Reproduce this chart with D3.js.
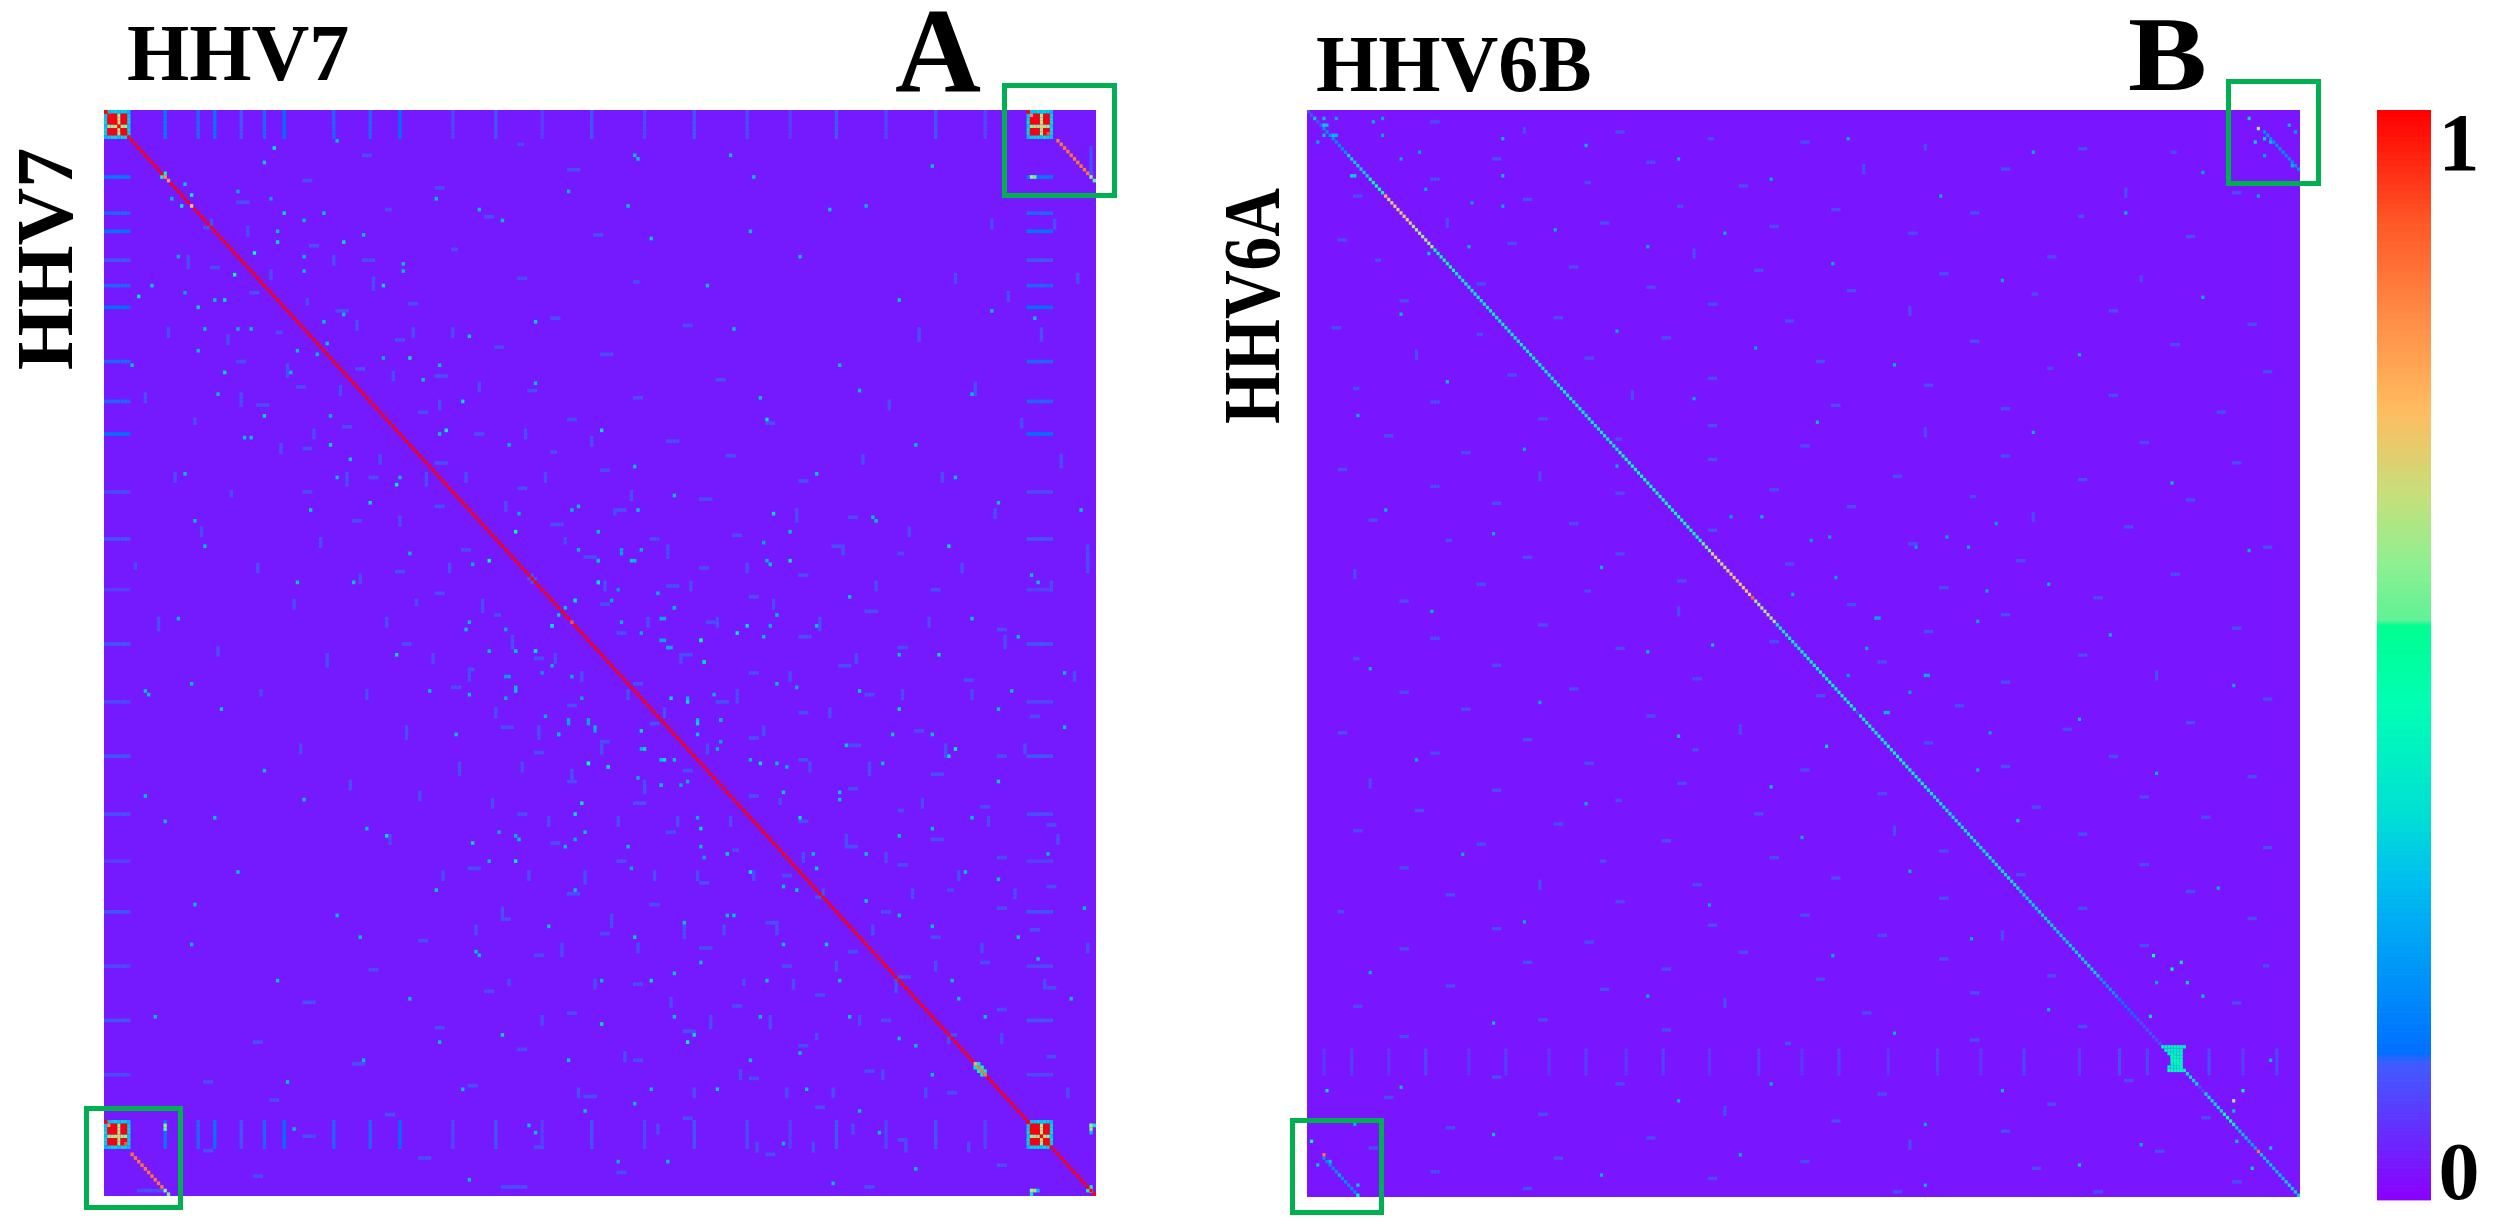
<!DOCTYPE html>
<html>
<head>
<meta charset="utf-8">
<script src="https://cdn.jsdelivr.net/npm/d3@7"></script>
<style>
  html, body { margin: 0; padding: 0; background: #fff; }
  svg { display: block; }
  text { font-family: "Liberation Serif", serif; font-weight: bold; fill: #000; }
</style>
</head>
<body>
<div id="container"></div>
<script>
// NOTE ON THE DATA: the original has roughly 100000 cells per panel and they cannot be read one by one.
// Everything else in the spot and dash lists is placed by eye or by hand, so those positions are only
// approximate and are not measurements. The fine speckle is NOT reproduced: it is stood in for by
// one flat average tone (fieldLevelA, fieldLevelB) and the picture is much sparser than the original there.

// colour scale, the jumps at 0.13 and 0.53 are in the original
var colorValues = [0, 0.125, 0.135, 0.29, 0.355, 0.454, 0.528, 0.532, 0.585, 0.645, 0.725, 0.815, 0.895, 1];
var colorList = ["#8b00ff", "#3f5cff", "#0070ff", "#00bdf0", "#00e0d4", "#00ffb4", "#00ff90", "#5ff296",
                 "#8ef090", "#c4e07c", "#ffbc60", "#ff8a45", "#ff5a28", "#ff0000"];

// grid sizes estimated from the cell pitch in the crops
var sizeA = 300;
var sizeB = 322;

// average tone of the fine speckle, which is not drawn cell by cell
var fieldLevelA = .036;
var fieldLevelB = .03;

// HHV7 self comparison: [first, last, value] along the diagonal
var diagRunsA = [[0,17,1],[18,19,.8],[20,25,1],[26,26,.72],[27,140,1],[141,141,.9],[142,262,1],[263,263,.75],
  [264,266,.85],[267,299,1]];

// terminal repeat block, same pattern in all four corners
var blockA = [
  [1,.3,.32,.34,.3,.34,.32,.28],
  [.3,.8,1,1,.6,1,1,.32],
  [.32,1,1,1,.62,1,1,.34],
  [.34,1,1,1,.62,1,1,.34],
  [.3,.6,.62,.62,.66,.62,.6,.3],
  [.34,1,1,1,.62,1,1,.34],
  [.32,1,1,1,.6,1,.9,.32],
  [.28,.32,.34,.34,.3,.34,.32,.3]];
var blockOriginsA = [[0,0],[0,279],[279,0],[279,279]];

// [column, value] thin stripes level with the repeat block, first nine from a crop, the rest by eye
var stripesA = [[18,.16],[28,.13],[33,.15],[41,.12],[48,.13],[54,.14],[69,.13],[80,.13],[89,.14],[105,.1],[118,.12],
  [132,.09],[147,.12],[163,.1],[178,.12],[194,.11],[207,.09],[221,.12],[236,.1],[251,.12],[266,.1]];

// [row, column, value] the stronger cells, the matrix is symmetric so each is drawn mirrored too.
// The first block is read from a crop of the centre, the others are approximate
var spotsA = [
[116,124,.5],[116,149,.3],[109,143,.3],[110,141,.28],[111,125,.27],[124,149,.3],[124,159,.3],[130,149,.35],
[135,142,.3],[142,135,.35],[143,121,.27],[149,130,.35],[160,124,.3],[162,121,.27],[111,202,.35],[116,207,.3],
[124,207,.4],[124,200,.28],[125,201,.3],[119,199,.26],[144,191,.4],[142,194,.35],[146,180,.35],[152,181,.35],
[158,203,.3],[139,203,.3],[142,201,.27],[159,209,.27],[162,176,.27],[137,172,.28],[140,169,.25],[146,169,.25],
[148,171,.26],[168,179,.3],[171,162,.35],[176,163,.35],[179,169,.35],[179,172,.3],[180,146,.45],[181,152,.3],
[170,148,.28],[168,146,.27],[168,140,.27],[172,137,.27],[176,185,.27],[168,186,.27],[180,203,.3],[179,195,.27],
[181,206,.27],[186,168,.28],[186,174,.26],[184,161,.27],[167,133,.27],[162,144,.26],[156,141,.28],[153,135,.27],
[155,132,.22],[156,122,.25],[149,124,.28],[156,121,.24],
[18,17,.45],[20,24,.3],[23,26,.4],[14,48,.32],[10,51,.38],[28,54,.35],[30,60,.3],[8,70,.3],[24,50,.25],[36,72,.35],
[39,45,.45],[33,52,.3],[40,22,.26],[44,60,.3],[48,84,.34],[42,90,.3],[52,36,.35],[58,66,.3],[60,40,.28],[62,110,.32],
[66,28,.3],[68,92,.35],[72,56,.3],[75,130,.3],[78,34,.3],[80,108,.35],[84,68,.28],[88,150,.35],[90,44,.3],[92,122,.28],
[96,74,.32],[98,160,.3],[100,24,.3],[103,88,.4],[106,172,.3],[30,120,.3],[22,140,.28],[12,160,.3],[35,165,.32],[48,182,.3],
[18,196,.3],[40,210,.3],[26,230,.28],[15,250,.3],[52,240,.32],[60,190,.3],[70,222,.3],[78,262,.3],[85,200,.35],[92,245,.3],
[100,215,.32],[108,270,.3],[112,232,.3],[120,255,.34],[128,280,.3],[134,225,.3],[140,262,.32],[150,240,.3],[155,290,.28],
[160,228,.32],[165,270,.3],[172,250,.3],[176,257,.42],[180,235,.3],[188,205,.32],[190,222,.3],[195,262,.3],[198,180,.35],
[200,240,.3],[205,214,.3],[210,195,.35],[212,270,.3],[218,230,.32],[222,188,.3],[225,250,.3],[230,205,.3],[234,282,.3],
[238,172,.32],[240,222,.3],[245,258,.3],[250,198,.3],[252,150,.35],[256,240,.3],[260,210,.3],[266,250,.3],[270,185,.32],
[274,160,.3],[276,228,.3],[282,130,.3],[285,205,.28],[290,170,.3],[292,245,.3],[295,110,.3],[296,220,.3],
[64,67,.3],[139,137,.3],[165,240,.35],[77,228,.3],[255,178,.35],[130,58,.32],[110,161,.3],[70,101,.3],[33,195,.3],[101,89,.3],
[158,26,.3],[189,12,.3],[198,79,.3],[233,113,.3],[268,55,.3],[215,209,.32],[57,281,.3],[145,276,.3],[101,257,.3],[27,219,.3],
[13,161,.3],[27,113,.3],[145,199,.3],[215,142,.3],[224,175,.3],
[265,264,.42],[264,265,.42],[265,265,.42],[264,263,.38],[266,265,.4],[263,264,.38],[281,298,.6],[280,298,.33],[282,298,.3],
[281,18,.55],[298,280,.6],[299,280,.4],[18,280,.6],[298,298,.62],[297,298,.42],[19,299,.55],[18,298,.6]];

// [row, column, length] faint blue runs, also mirrored. Placed by hand, not read cell by cell
var dashesA = [
[9,125,2],[12,78,3],[16,140,4],[19,60,3],[21,100,3],[25,40,4],[27,85,2],[29,115,3],[32,30,3],[34,148,3],[37,62,3],
[38,105,2],[41,78,4],[43,32,3],[46,125,3],[47,160,2],[50,44,3],[53,92,3],[55,70,4],[57,135,3],[59,175,3],[61,52,2],[63,88,3],
[65,118,3],[67,150,4],[69,40,3],[71,76,3],[73,100,4],[74,185,3],[76,58,3],[77,128,3],[79,160,3],[81,46,4],[83,95,3],[85,140,3],
[86,200,3],[87,72,3],[89,112,3],[91,170,4],[93,60,3],[94,135,2],[95,188,3],[97,100,4],[99,150,3],[101,80,3],[102,210,3],
[104,125,3],[105,60,3],[107,180,4],[109,100,3],[110,155,3],[112,225,3],[113,75,3],[114,135,4],[117,190,3],[118,165,3],[120,220,3],
[121,108,3],[122,240,2],[123,145,4],[126,180,3],[127,88,3],[128,210,3],[129,128,3],[131,170,4],[132,250,3],[133,100,3],[134,195,3],
[136,150,3],[138,230,4],[139,118,2],[141,182,3],[143,270,3],[144,155,3],[145,210,4],[147,90,3],[148,240,3],[150,175,3],[151,130,3],
[153,222,4],[154,110,2],[155,195,3],[157,260,3],[158,160,3],[159,105,3],[161,230,3],[163,185,4],[164,140,3],[166,210,3],[167,280,3],
[169,165,3],[170,120,4],[171,245,3],[173,195,3],[174,150,3],[175,225,4],[177,130,3],[178,270,3],[179,210,3],[182,175,3],[183,250,4],
[185,140,3],[187,225,3],[189,195,3],[191,160,4],[192,265,3],[193,240,2],[194,125,3],[196,210,3],[197,285,3],[199,170,3],[201,250,4],
[202,135,3],[203,225,3],[204,190,2],[206,270,3],[207,155,3],[208,240,3],[209,110,4],[211,205,3],[213,180,3],[214,285,3],[215,255,2],
[216,140,4],[217,215,3],[219,165,3],[220,270,3],[221,235,3],[223,120,3],[224,200,4],[226,280,3],[227,150,3],[228,250,3],[229,95,3],
[231,180,4],[232,225,3],[233,130,3],[235,265,3],[236,205,3],[237,80,3],[239,240,4],[241,160,3],[242,285,3],[243,115,3],[244,215,3],
[246,60,4],[247,190,3],[248,270,3],[249,140,3],[251,235,3],[253,100,3],[254,175,4],[255,255,3],[257,45,3],[258,210,3],[259,125,3],
[261,285,3],[262,160,3],[263,75,4],[265,230,3],[267,195,3],[268,30,3],[269,110,3],[271,255,3],[272,145,4],[273,50,3],[275,215,3],
[277,85,3],[278,175,3],[283,60,4],[284,240,3],[286,130,3],[287,30,3],[288,200,3],[289,95,4],[291,270,3],[293,155,3],[294,45,3],
[297,120,8],[297,230,3],[298,10,8]];

// HHV6B vs HHV6A, not symmetric. Values along the diagonal
var diagRunsB = [[0,4,.12],[5,12,.2],[13,19,.33],[20,24,.5],[25,25,.75],[26,33,.68],[34,40,.62],[41,47,.52],[48,100,.4],
  [101,127,.45],[128,130,.55],[131,136,.66],[137,143,.7],[144,144,.87],[145,151,.62],[152,160,.4],[161,177,.42],[178,178,.1],
  [179,200,.42],[201,230,.38],[231,256,.33],[257,262,.22],[263,268,.15],[269,276,.12],[277,284,.42],[285,288,.35],[289,290,.1],
  [291,296,.35],[297,300,.5],[301,304,.3],[305,307,.25],[308,308,.85],[309,316,.3],[317,321,.33]];

// [row, first column, length, value] of the teal block near the end of the diagonal
var blockRunsB = [[277,278,7,.4],[278,279,5,.42],[279,280,4,.42],[280,280,4,.44],[281,280,4,.44],[282,280,4,.42],[283,279,5,.42],[284,279,5,.44]];

// [column, value] thin stripes across rows 278 to 285, the right hand ones from a crop, the rest by eye
var stripesB = [[5,.08],[14,.09],[26,.08],[38,.1],[52,.08],[64,.09],[78,.08],[90,.09],[103,.08],[115,.1],[130,.08],[146,.09],[160,.08],
  [172,.09],[188,.08],[204,.09],[218,.08],[232,.1],[250,.09],[263,.11],[272,.1],[292,.11],[303,.09],[314,.1]];

// [row, column, value], from the crops round the centre and the corners, the rest by eye
var spotsB = [
[2,2,.3],[4,5,.33],[4,6,.3],[2,5,.3],[7,5,.3],[7,8,.3],[7,9,.28],[9,3,.25],[2,9,.26],[19,14,.35],[19,15,.33],[3,21,.27],[2,24,.26],
[7,24,.26],[8,63,.28],[19,63,.3],[40,52,.28],[28,63,.26],[27,53,.25],[23,38,.25],[14,30,.27],[12,36,.25],[42,39,.3],
[158,131,.3],[150,185,.27],[150,184,.27],[178,187,.3],[178,188,.28],[188,168,.35],[200,150,.3],[143,157,.26],[120,147,.27],[120,137,.25],
[138,171,.26],[126,169,.25],[127,163,.25],[126,207,.25],[122,223,.25],[129,214,.26],[159,181,.27],[167,175,.25],[167,200,.28],[167,201,.25],
[142,220,.26],[151,217,.26],[172,195,.25],[195,217,.26],[184,221,.25],[129,197,.25],
[2,305,.35],[5,308,.62],[8,310,.3],[9,307,.32],[9,312,.3],[13,310,.25],[4,318,.28],[6,320,.25],[16,319,.28],[21,315,.25],[25,308,.26],
[305,1,.45],[309,5,.85],[312,3,.3],[315,10,.26],[318,16,.32],[321,16,.45],[311,7,.3],[300,15,.27],[290,6,.35],[289,30,.3],
[10,90,.28],[14,120,.26],[20,150,.27],[8,175,.27],[25,205,.28],[12,235,.26],[30,265,.27],[18,290,.26],[35,80,.27],[40,110,.26],[36,135,.28],
[45,170,.27],[50,225,.26],[55,290,.28],[60,30,.3],[65,100,.27],[70,145,.26],[75,190,.28],[72,250,.27],[80,45,.3],[85,125,.26],[90,16,.27],
[92,165,.3],[95,235,.27],[100,70,.27],[105,100,.26],[110,280,.3],[118,25,.28],[125,60,.27],[130,305,.28],[135,95,.27],[140,240,.27],[148,40,.28],
[155,260,.27],[160,110,.3],[165,20,.28],[170,300,.26],[175,75,.27],[180,250,.28],[185,120,.3],[192,35,.27],[196,275,.28],[205,90,.27],[210,230,.3],
[215,160,.27],[220,50,.27],[225,195,.27],[230,295,.28],[235,130,.26],[240,70,.27],[245,215,.28],[250,170,.27],[255,20,.28],[258,275,.27],
[262,110,.28],[266,240,.27],[270,60,.3],[273,190,.27],[288,150,.28],[290,225,.3],[293,120,.27],[296,300,.3],[300,200,.27],[303,60,.3],
[306,270,.28],[309,140,.27],[312,250,.3],[315,95,.27],[318,200,.28],[281,312,.3],[268,273,.35],[262,290,.3],[258,285,.34],[254,280,.42],[252,283,.4],
[250,274,.5],[293,300,.62],[290,303,.45],[305,301,.3],[313,306,.36],[307,312,.3]];

// [row, column, length] faint runs, a negative length runs down the column. Placed by hand, not read cell by cell
var dashesB = [
[3,40,3],[5,70,-2],[6,100,3],[8,130,2],[9,160,3],[10,200,-2],[11,250,3],[12,280,2],[14,60,3],[15,110,3],[16,180,-3],[17,225,3],[20,40,3],[21,90,2],
[22,140,3],[23,265,-3],[24,300,3],[25,15,3],[26,70,3],[28,120,2],[29,170,3],[30,215,3],[31,250,2],[32,45,-3],[33,95,3],[34,150,3],[36,195,3],[37,285,3],
[38,10,3],[39,65,3],[41,125,-3],[43,240,3],[44,22,2],[46,85,3],[47,145,3],[48,205,3],[49,270,-2],[51,55,3],[52,110,3],[53,175,3],[54,235,2],[56,30,3],
[57,130,3],[58,195,-3],[59,260,3],[61,80,3],[62,155,3],[63,305,3],[64,8,3],[66,55,2],[67,115,3],[68,215,3],[69,280,3],[71,35,-3],[73,90,3],[74,165,3],
[76,240,2],[77,310,3],[78,65,3],[79,130,3],[81,200,3],[82,15,2],[83,105,-3],[84,260,3],[86,40,3],[87,170,3],[88,225,3],[89,295,3],[91,75,3],[93,130,3],
[94,200,-3],[96,25,3],[97,100,2],[98,270,3],[99,160,3],[101,50,3],[102,225,3],[103,130,3],[104,300,3],[106,10,3],[107,75,-3],[108,190,3],[109,250,3],
[111,40,3],[112,150,3],[113,100,3],[114,215,2],[115,285,3],[116,60,3],[117,175,3],[119,235,-3],[121,20,3],[122,85,3],[123,265,3],[124,130,3],[127,45,2],
[128,195,3],[129,310,3],[131,100,3],[132,70,3],[133,230,3],[134,155,3],[136,15,-3],[137,280,3],[139,120,3],[140,55,3],[141,205,3],[142,90,2],[144,255,3],
[145,30,3],[146,175,3],[147,120,-3],[149,225,3],[152,75,3],[153,300,3],[154,200,3],[156,40,3],[157,150,3],[159,100,3],[161,250,3],[162,15,2],[163,185,3],
[164,60,3],[166,275,-3],[168,125,3],[169,225,3],[171,85,3],[172,30,3],[173,165,3],[174,310,3],[176,210,3],[177,50,3],[179,110,3],[181,285,3],[182,140,-3],
[183,245,3],[184,10,3],[186,70,3],[187,200,3],[189,125,2],[190,40,3],[191,260,3],[193,90,3],[194,225,3],[195,160,3],[197,305,3],[198,20,-3],[199,120,3],
[201,60,3],[202,185,3],[203,270,3],[204,100,2],[206,235,3],[207,35,3],[208,145,3],[209,290,3],[211,80,3],[212,190,-3],[213,15,3],[214,250,3],[216,115,3],
[217,55,3],[218,310,3],[219,205,3],[221,150,3],[222,95,2],[223,270,3],[224,30,3],[226,230,3],[227,170,3],[228,75,-3],[229,125,3],[231,285,3],[232,45,3],
[233,205,3],[234,100,3],[236,250,3],[237,10,2],[238,160,3],[239,305,3],[241,130,3],[242,60,3],[243,225,-3],[244,185,3],[246,90,3],[247,270,3],[248,30,3],
[249,140,3],[251,205,3],[252,70,3],[253,310,2],[254,115,3],[256,240,3],[257,165,3],[259,45,3],[260,95,3],[261,215,3],[263,135,-3],[264,300,3],[265,15,3],
[267,180,3],[269,75,3],[271,250,3],[272,115,3],[274,30,3],[275,215,3],[276,155,2],[286,60,3],[287,265,3],[288,100,3],[291,185,3],[292,25,3],[294,240,3],
[295,135,-3],[297,75,3],[298,290,3],[299,170,3],[301,45,3],[302,225,3],[304,110,3],[305,195,-3],[307,20,3],[308,275,3],[310,80,3],[311,160,3],[313,235,3],
[314,40,3],[316,130,3],[317,300,3],[319,70,3],[320,190,3],[320,255,3]];

var titles = ["HHV7", "A", "HHV6B", "B", "HHV7", "HHV6A"];
var colorTicks = ["1", "0"];

var width = 2494, height = 1231;

var svg = d3.select("#container").append("svg")
    .attr("width", width)
    .attr("height", height);

var defs = svg.append("defs");
defs.append("filter")
    .attr("id", "soft")
    .attr("x", "-1%").attr("y", "-1%").attr("width", "102%").attr("height", "102%")
    .attr("color-interpolation-filters", "sRGB")
  .append("feGaussianBlur")
    .attr("stdDeviation", 0.6);

var color = d3.scaleLinear()
    .domain(colorValues)
    .range(colorList)
    .interpolate(d3.interpolateRgb);

// turns the small lists into one list of cells {r, c, v}
function diagCells(runs) {
  var out = [];
  runs.forEach(function(run) {
    for (var i = run[0]; i <= run[1]; i++) out.push({r: i, c: i, v: run[2]});
  });
  return out;
}

function dashCells(dashes, v) {
  var out = [];
  dashes.forEach(function(d) {
    for (var k = 0; k < Math.abs(d[2]); k++) {
      if (d[2] > 0) out.push({r: d[0], c: d[1] + k, v: v});
      else out.push({r: d[0] + k, c: d[1], v: v});
    }
  });
  return out;
}

function mirrored(cells) {
  return cells.concat(cells.map(function(d) { return {r: d.c, c: d.r, v: d.v}; }));
}

function stripeCells(stripes, firstRow, lastRow) {
  var out = [];
  stripes.forEach(function(s) {
    for (var r = firstRow; r <= lastRow; r++) out.push({r: r, c: s[0], v: s[1]});
  });
  return out;
}

var cellsA = [];
cellsA = cellsA.concat(mirrored(stripeCells(stripesA, 0, 7)));
cellsA = cellsA.concat(mirrored(stripeCells(stripesA, 279, 286)));
cellsA = cellsA.concat(mirrored(dashCells(dashesA, .11)));
cellsA = cellsA.concat(mirrored(spotsA.map(function(d) { return {r: d[0], c: d[1], v: d[2]}; })));
cellsA = cellsA.concat(diagCells(diagRunsA));
// off-diagonal copies of the repeat, the short orange lines in the green boxes
var repeatDiag = [8,9,10,11,12,13,14,15,16,17];
repeatDiag.forEach(function(i) {
  cellsA.push({r: i, c: i + 280, v: .85});
  cellsA.push({r: i + 280, c: i, v: .85});
});
blockOriginsA.forEach(function(o) {
  blockA.forEach(function(row, i) {
    row.forEach(function(v, j) { cellsA.push({r: o[0] + i, c: o[1] + j, v: v}); });
  });
});

var cellsB = [];
cellsB = cellsB.concat(stripeCells(stripesB, 278, 285));
cellsB = cellsB.concat(dashCells(dashesB, .11));
cellsB = cellsB.concat(spotsB.map(function(d) { return {r: d[0], c: d[1], v: d[2]}; }));
cellsB = cellsB.concat(diagCells(diagRunsB));
blockRunsB.forEach(function(b) {
  for (var k = 0; k < b[2]; k++) cellsB.push({r: b[0], c: b[1] + k, v: b[3]});
});
// faint off-diagonal lines inside the two green boxes
[310,311,312,313,314,315,316,317,318,319,320,321].forEach(function(c, i) {
  cellsB.push({r: 6 + i, c: c, v: .2});
  cellsB.push({r: 310 + i, c: c - 305, v: .2});
});

function drawPanel(id, cells, n, field, x0, x1, y0, y1) {
  var x = d3.scaleLinear().domain([0, n]).range([x0, x1]);
  var y = d3.scaleLinear().domain([0, n]).range([y0, y1]);

  defs.append("clipPath").attr("id", "clip" + id)
    .append("rect")
      .attr("x", x(0)).attr("y", y(0))
      .attr("width", x(n) - x(0)).attr("height", y(n) - y(0));

  var g = svg.append("g").attr("clip-path", "url(#clip" + id + ")");
  g.append("rect")
      .attr("x", x(0)).attr("y", y(0))
      .attr("width", x(n) - x(0)).attr("height", y(n) - y(0))
      .attr("fill", color(field));

  // low values first so the bright ones stay on top
  cells.sort(function(a, b) { return a.v - b.v; });

  g.append("g").attr("filter", "url(#soft)")
    .selectAll("rect")
    .data(cells)
    .enter().append("rect")
      .attr("x", function(d) { return x(d.c); })
      .attr("y", function(d) { return y(d.r); })
      .attr("width", x(1) - x(0))
      .attr("height", y(1) - y(0))
      .attr("fill", function(d) { return color(d.v); });
}

drawPanel("A", cellsA, sizeA, fieldLevelA, 104, 1096, 110, 1196);
drawPanel("B", cellsB, sizeB, fieldLevelB, 1307, 2300, 110, 1197);

// green boxes
var boxX = [1004.5, 86.5, 2228.5, 1292.5];
var boxY = [85.5, 1108.5, 81.5, 1120.5];
var boxW = [110, 94, 90, 89];
var boxH = [110, 99, 102, 92];
svg.selectAll("rect.box")
    .data(boxX)
    .enter().append("rect")
      .attr("class", "box")
      .attr("x", function(d) { return d; })
      .attr("y", function(d, i) { return boxY[i]; })
      .attr("width", function(d, i) { return boxW[i]; })
      .attr("height", function(d, i) { return boxH[i]; })
      .attr("fill", "none")
      .attr("stroke", "#00b050")
      .attr("stroke-width", 5);

// colour bar
var barScale = d3.scaleLinear().domain([0, 1]).range([1200, 113]);
var barSteps = d3.range(0, 1.0001, 1 / 400);
svg.append("g").selectAll("rect")
    .data(barSteps)
    .enter().append("rect")
      .attr("x", 2377)
      .attr("y", function(d) { return barScale(d) - 3; })
      .attr("width", 54)
      .attr("height", 3.4)
      .attr("fill", function(d) { return color(d); });

svg.append("g").selectAll("text")
    .data(colorTicks)
    .enter().append("text")
      .attr("x", 2459)
      .attr("y", function(d) { return d === "1" ? 170 : 1199; })
      .attr("text-anchor", "middle")
      .style("font-size", "82px")
      .text(function(d) { return d; });

// panel titles and letters
svg.append("text").attr("x", 127).attr("y", 80).style("font-size", "80px").text(titles[0]);
svg.append("text").attr("x", 895).attr("y", 91).attr("textLength", 86).attr("lengthAdjust", "spacingAndGlyphs")
    .style("font-size", "120px").text(titles[1]);
svg.append("text").attr("x", 1316).attr("y", 91).style("font-size", "80px").text(titles[2]);
svg.append("text").attr("x", 2128).attr("y", 90).attr("textLength", 79).attr("lengthAdjust", "spacingAndGlyphs")
    .style("font-size", "106px").text(titles[3]);
svg.append("text")
    .attr("transform", "translate(72,370) rotate(-90)")
    .style("font-size", "80px")
    .text(titles[4]);
svg.append("text")
    .attr("transform", "translate(1279,424) rotate(-90)")
    .attr("textLength", 236)
    .attr("lengthAdjust", "spacingAndGlyphs")
    .style("font-size", "80px")
    .text(titles[5]);
</script>
</body>
</html>
